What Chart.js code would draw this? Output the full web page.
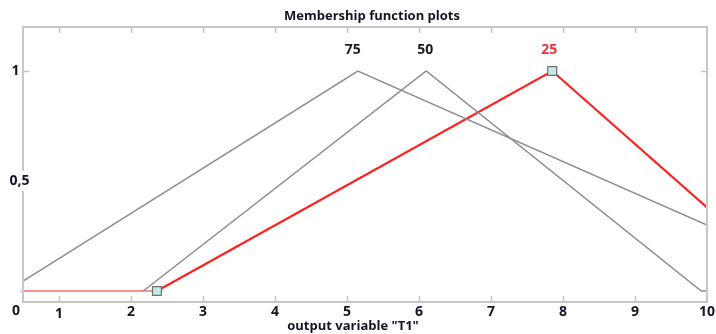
<!DOCTYPE html>
<html>
<head>
<meta charset="utf-8">
<script src="https://cdn.jsdelivr.net/npm/chart.js@4.4.1/dist/chart.umd.min.js"></script>
<style>
  body { margin: 0; background: #fff; }
  #wrap { width: 716px; height: 334px; }
</style>
</head>
<body>
<div id="wrap"><canvas id="myChart" width="716" height="334"></canvas></div>
<script>
// tick values and their labels (the first tick sits on the left edge, labelled 0)
var xTicks = [0.5, 1, 2, 3, 4, 5, 6, 7, 8, 9, 10];
var xTickLabels = ['0', '1', '2', '3', '4', '5', '6', '7', '8', '9', '10'];
var yTicks = [0.5, 1];
var yTickLabels = ['0,5', '1'];

// membership functions of output variable "T1"
var mfNames = ['75', '50', '25'];
var mf75X = [0.5, 5.15, 10];
var mf75Y = [0.045, 1, 0.3];
var mf50X = [2.17, 6.1, 9.92, 10];
var mf50Y = [0, 1, 0, 0];
var mf25X = [0.5, 2.36, 7.85, 10];
var mf25Y = [0, 0, 1, 0.38];

function toPoints(xs, ys){
    return xs.map(function(x, i){ return {x: x, y: ys[i]}; });
}

var FONT = '"Open Sans", "DejaVu Sans", sans-serif';
var AXIS = '#c6c6c6';

// matlab style frame, inward ticks, labels and mf names
var matlabAxes = {
    id: 'matlabAxes',
    afterDraw: function(chart){
        var ctx = chart.ctx;
        var a = chart.chartArea;
        var sx = chart.scales.x, sy = chart.scales.y;
        ctx.save();

        // frame
        ctx.strokeStyle = AXIS;
        ctx.lineWidth = 2;
        ctx.strokeRect(a.left, a.top, a.right - a.left, a.bottom - a.top);

        // ticks
        ctx.lineWidth = 1.5;
        ctx.beginPath();
        xTicks.forEach(function(v){
            if (v <= 0.5 || v >= 10) return;
            var px = Math.round(sx.getPixelForValue(v)) + 0.5;
            ctx.moveTo(px, a.top); ctx.lineTo(px, a.top + 6);
            ctx.moveTo(px, a.bottom); ctx.lineTo(px, a.bottom - 6);
        });
        var py1 = Math.round(sy.getPixelForValue(1)) + 0.5;
        ctx.moveTo(a.left, py1); ctx.lineTo(a.left + 6, py1);
        ctx.moveTo(a.right, py1); ctx.lineTo(a.right - 6, py1);
        var py0 = Math.round(sy.getPixelForValue(0)) + 0.5;
        ctx.moveTo(a.left - 3, py0); ctx.lineTo(a.left, py0);
        ctx.stroke();

        // x tick labels
        ctx.fillStyle = '#141428';
        ctx.font = 'bold 14px ' + FONT;
        ctx.textAlign = 'center';
        ctx.textBaseline = 'middle';
        xTicks.forEach(function(v, i){
            var px = sx.getPixelForValue(v);
            var py = 312;
            if (i === 0) { px = 16; py = 311; }
            if (i === 1) { py = 314; }
            ctx.fillText(xTickLabels[i], px, py);
        });

        // y tick labels, "0,5" covers the axis line
        yTicks.forEach(function(v, i){
            var py = sy.getPixelForValue(v);
            var lbl = yTickLabels[i];
            var px = (lbl === '1') ? 15.5 : 19.5;
            if (lbl !== '1') {
                var w = ctx.measureText(lbl).width;
                ctx.fillStyle = '#fff';
                ctx.fillRect(px - w / 2 - 2, py - 10, w + 4, 20);
            }
            ctx.fillStyle = '#141428';
            ctx.fillText(lbl, px, py);
        });

        // mf names above the peaks
        var peaks = [mf75X[1], mf50X[1], mf25X[2]];
        var nameCol = ['#1c1c1c', '#1c1c1c', '#f0303c'];
        var dx = [-5, -1, -3];
        mfNames.forEach(function(n, i){
            ctx.fillStyle = nameCol[i];
            ctx.fillText(n, sx.getPixelForValue(peaks[i]) + dx[i], sy.getPixelForValue(1) - 21);
        });

        // titles
        ctx.fillStyle = '#141428';
        ctx.font = 'bold 13px ' + FONT;
        ctx.fillText('Membership function plots', 372, 16);
        ctx.fillText('output variable "T1"', 353, 326);
        ctx.restore();
    }
};

function drawChart(){
    var data = {
        datasets: [{
            label: mfNames[0],
            data: toPoints(mf75X, mf75Y),
            borderColor: '#8c8c8c',
            borderWidth: 1.5,
            pointRadius: 0
        }, {
            label: mfNames[1],
            data: toPoints(mf50X, mf50Y),
            borderColor: '#8c8c8c',
            borderWidth: 1.5,
            pointRadius: 0
        }, {
            label: mfNames[2],
            data: toPoints(mf25X, mf25Y),
            borderColor: '#ff2020',
            borderWidth: 2.2,
            segment: {
                borderWidth: function(c){ return c.p0DataIndex === 0 ? 1 : 2.2; }
            },
            pointStyle: 'rect',
            pointRadius: [0, 6.3, 6.3, 0],
            pointBackgroundColor: '#c4e8ec',
            pointBorderColor: '#707070',
            pointBorderWidth: 1.2
        }]
    };
    var ctx = document.getElementById('myChart').getContext('2d');
    var myChart = new Chart(ctx, {
        type: 'scatter',
        data: data,
        options: {
            responsive: false,
            animation: false,
            showLine: true,
            layout: { padding: { left: 23, right: 9, top: 27, bottom: 32 } },
            scales: {
                x: { type: 'linear', min: 0.5, max: 10, display: false },
                y: { type: 'linear', min: -0.05, max: 1.2, display: false }
            },
            plugins: { legend: { display: false }, tooltip: { enabled: false } }
        },
        plugins: [matlabAxes]
    });
}
drawChart();
</script>
</body>
</html>
